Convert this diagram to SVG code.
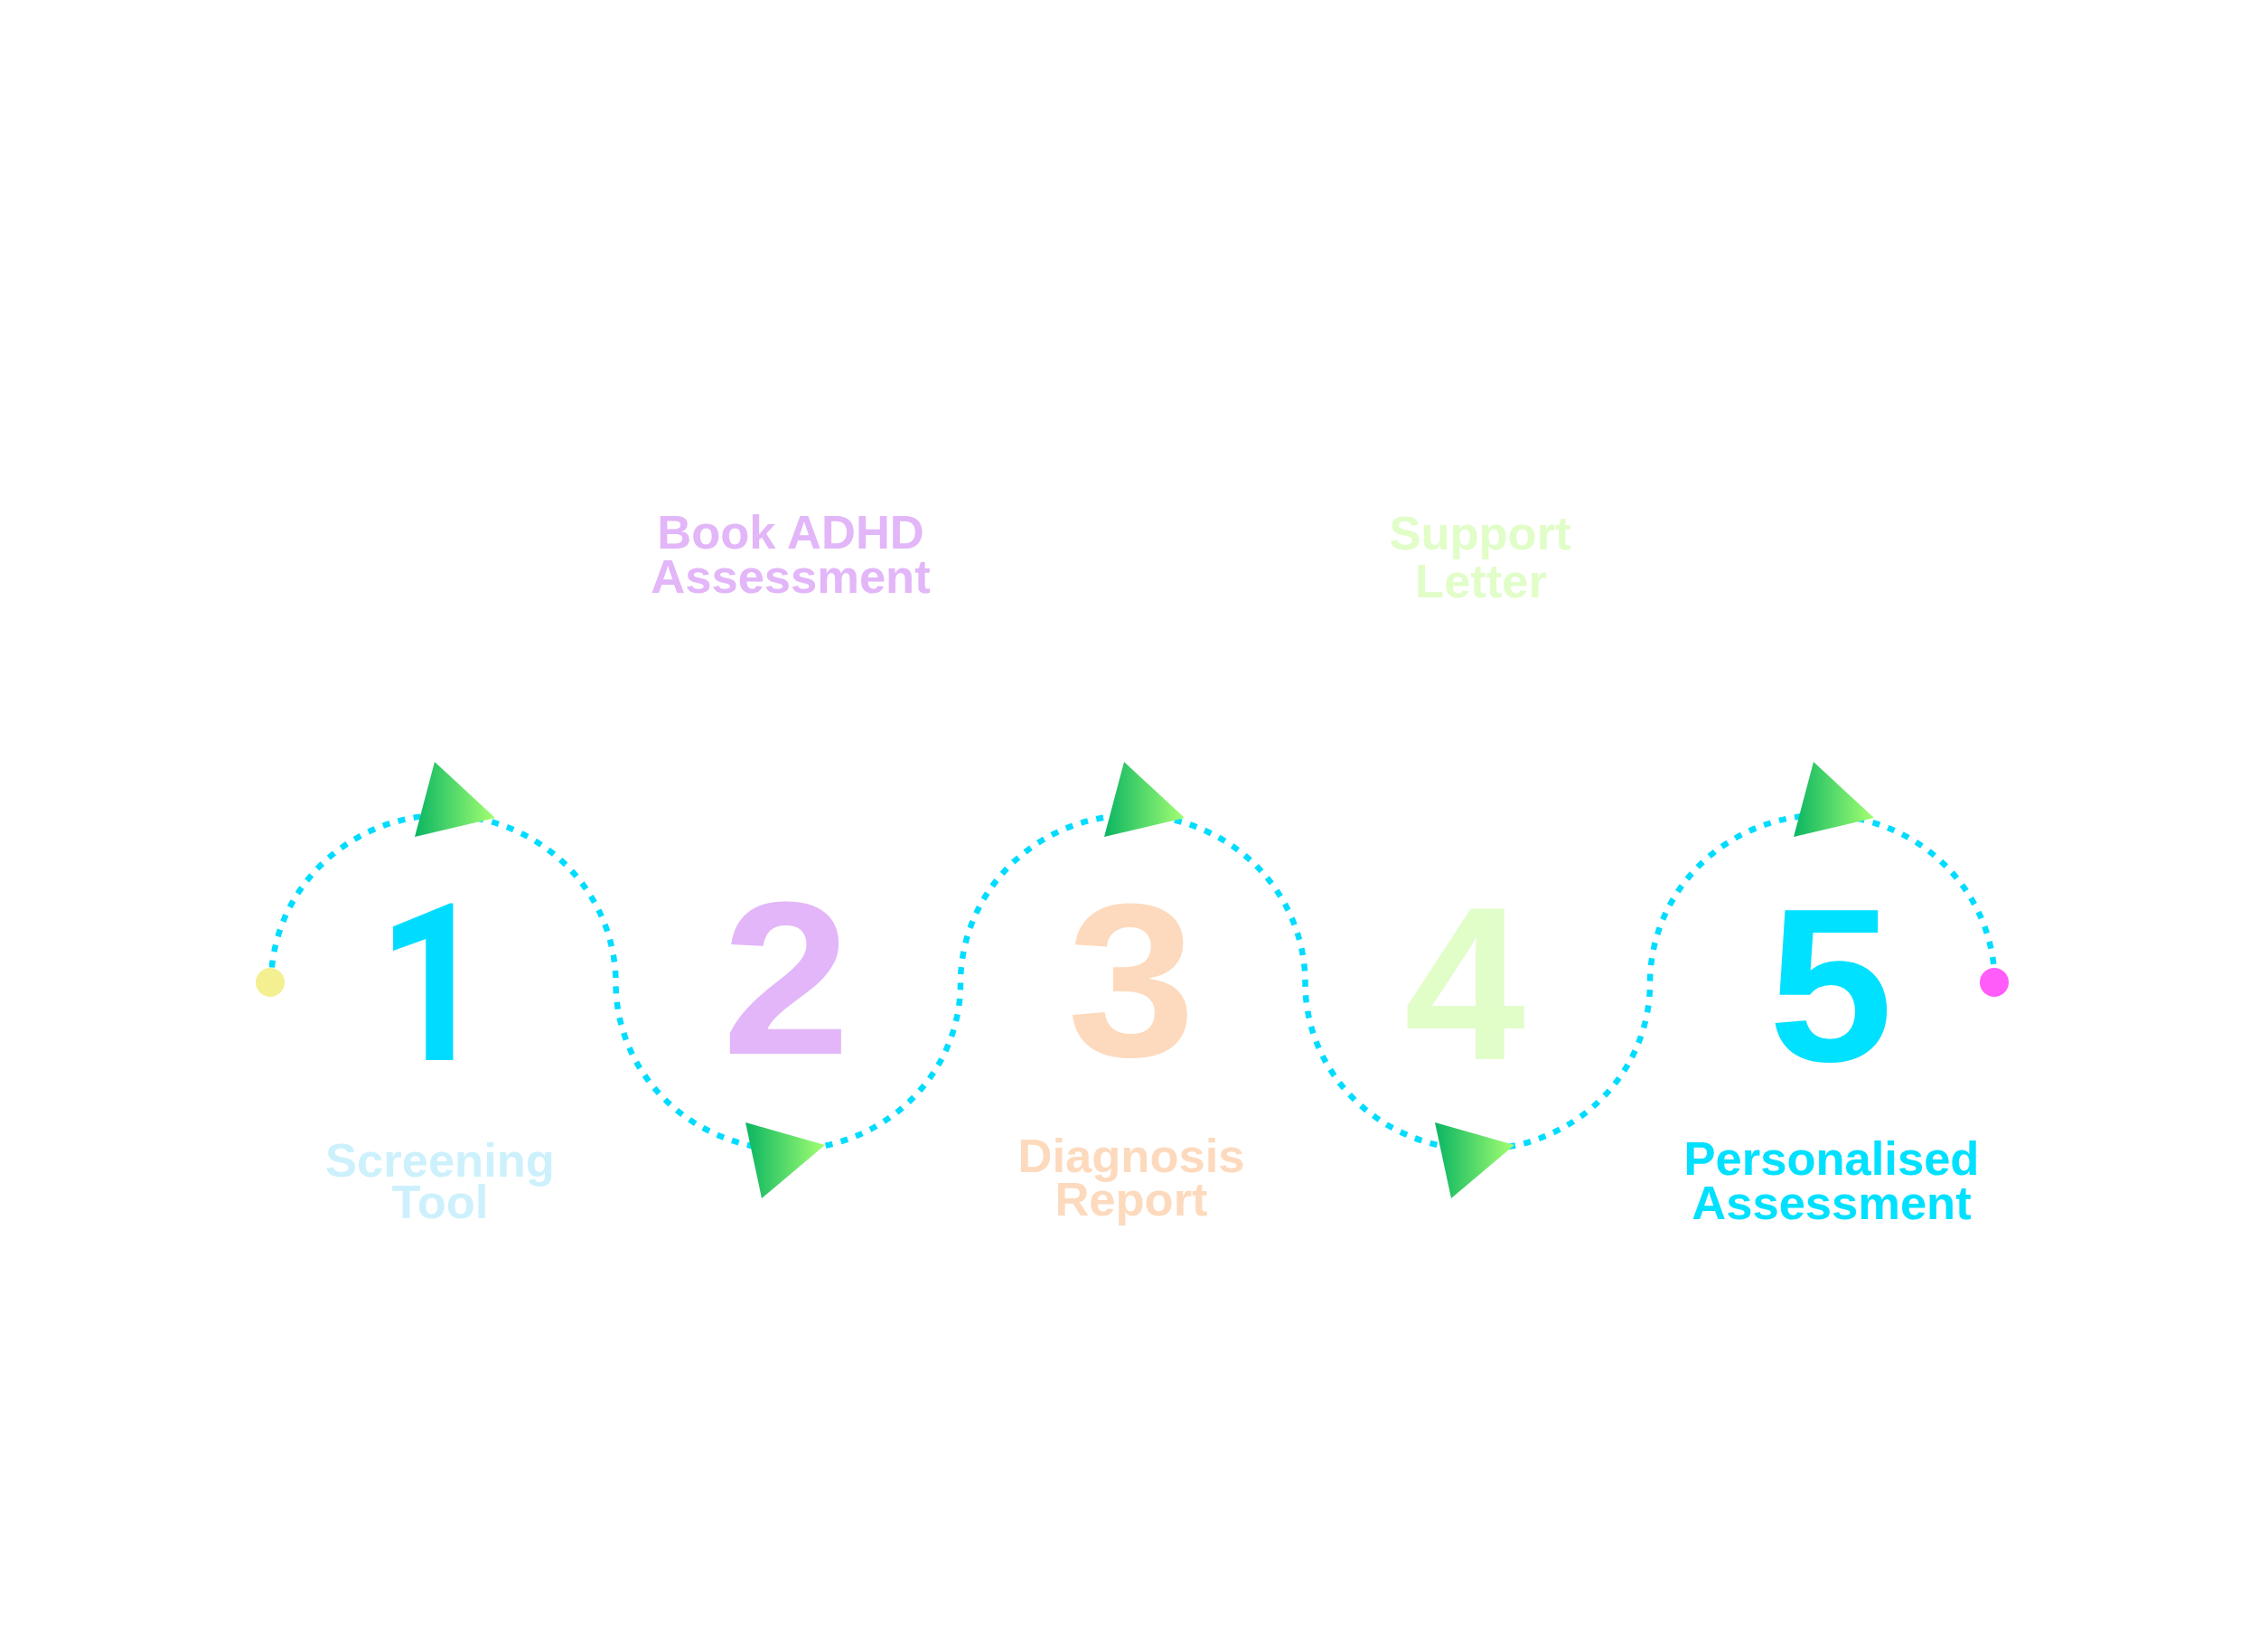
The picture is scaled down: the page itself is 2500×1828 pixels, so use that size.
<svg xmlns="http://www.w3.org/2000/svg" width="2500" height="1828" viewBox="0 0 2500 1828">
  <style>
    .num { font-family: "Liberation Sans", Arial, sans-serif; font-weight: bold; font-size: 241px; text-anchor: middle; }
    .one { font-family: Roboto, "Liberation Sans", sans-serif; font-weight: bold; font-size: 243px; text-anchor: middle; }
    .lbl { font-family: "Liberation Sans", Arial, sans-serif; font-weight: bold; font-size: 52.5px; text-anchor: middle; }
    .wave { fill: none; stroke: #00DCFF; stroke-width: 6.5; stroke-dasharray: 8 9.5; }
    .arrow { fill: url(#g); }
  </style>
  <defs>
    <linearGradient id="g" x1="0" y1="0" x2="1" y2="0">
      <stop offset="0" stop-color="#0AB562"/>
      <stop offset="1" stop-color="#A4FF72"/>
    </linearGradient>
    <polygon id="arrUp" points="481,843 548,905 459,926"/>
    <polygon id="arrDown" points="825,1242 913,1267 843,1326"/>
  </defs>
  <rect width="2500" height="1828" fill="#FFFFFF"/>

  <g id="connectors">
    <path class="wave" d="M300,1088 A190.75,186 0 0 1 681.5,1088 A190.75,184 0 0 0 1063,1088 A190.75,186 0 0 1 1444.5,1088 A190.75,184 0 0 0 1826,1088 A190.75,186 0 0 1 2207.5,1088"/>
    <use href="#arrUp" class="arrow"/>
    <use href="#arrUp" class="arrow" transform="translate(763,0)"/>
    <use href="#arrUp" class="arrow" transform="translate(1526,0)"/>
    <use href="#arrDown" class="arrow"/>
    <use href="#arrDown" class="arrow" transform="translate(763,0)"/>
    <circle id="start" cx="299" cy="1087" r="16" fill="#F4EF90"/>
    <circle id="end" cx="2207" cy="1087" r="16" fill="#FF5CFA"/>
  </g>

  <g id="node-1">
    <text class="one" x="479" y="1173" fill="#00DCFF" textLength="123" lengthAdjust="spacingAndGlyphs">1</text>
    <text class="lbl" x="487" y="1302" fill="#CDF1FC">Screening</text>
    <text class="lbl" x="487" y="1348" fill="#CDF1FC">Tool</text>
  </g>
  <g id="node-2">
    <text class="num" x="870" y="1166" fill="#E2B6F8" textLength="142" lengthAdjust="spacingAndGlyphs">2</text>
    <text class="lbl" x="875" y="607" fill="#E2B6F8">Book ADHD</text>
    <text class="lbl" x="875" y="656" fill="#E2B6F8">Assessment</text>
  </g>
  <g id="node-3">
    <text class="num" x="1252" y="1168" fill="#FDDABD" textLength="142" lengthAdjust="spacingAndGlyphs">3</text>
    <text class="lbl" x="1252" y="1297" fill="#FDDABD">Diagnosis</text>
    <text class="lbl" x="1252" y="1345" fill="#FDDABD">Report</text>
  </g>
  <g id="node-4">
    <text class="num" x="1621" y="1172" fill="#E1FDC8">4</text>
    <text class="lbl" x="1638" y="608" fill="#E1FDC8">Support</text>
    <text class="lbl" x="1639" y="661" fill="#E1FDC8">Letter</text>
  </g>
  <g id="node-5">
    <text class="num" x="2026" y="1174" fill="#00E0FF" textLength="138" lengthAdjust="spacingAndGlyphs">5</text>
    <text class="lbl" x="2027" y="1300" fill="#00E0FF">Personalised</text>
    <text class="lbl" x="2027" y="1349" fill="#00E0FF">Assessment</text>
  </g>
</svg>
